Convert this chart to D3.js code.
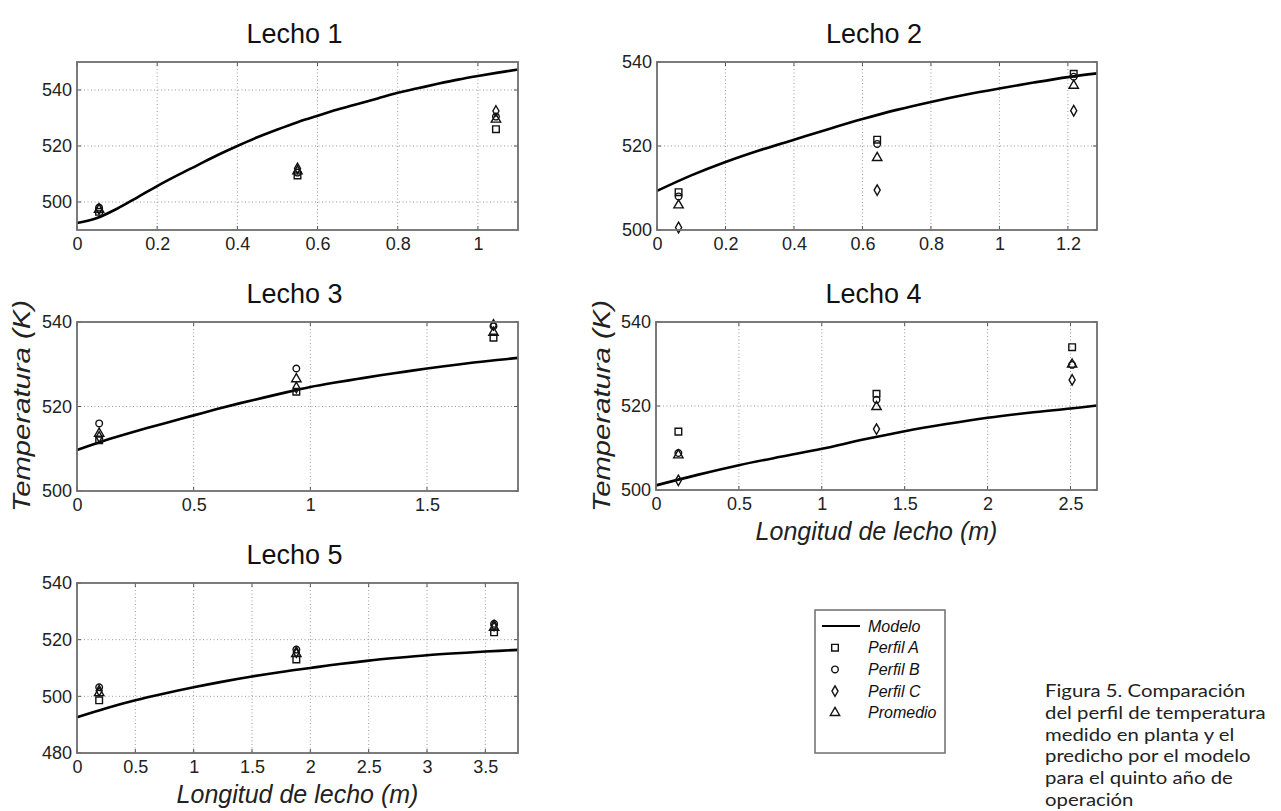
<!DOCTYPE html>
<html><head><meta charset="utf-8">
<script src="https://cdn.jsdelivr.net/npm/d3@7"></script>
<style>body{margin:0;background:#fff;overflow:hidden} svg{display:block}</style>
</head><body>
<svg id="c" width="1281" height="811"></svg>
<script>
// ---------------- DATA ----------------
const titles = ["Lecho 1", "Lecho 2", "Lecho 3", "Lecho 4", "Lecho 5"];
const legendNames = ["Modelo", "Perfil A", "Perfil B", "Perfil C", "Promedio"];
const yAxisLabel = "Temperatura (K)";
const xAxisLabel = "Longitud de lecho (m)";
const captionLines = ["Figura 5. Comparación", "del perfil de temperatura", "medido en planta y el",
  "predicho por el modelo", "para el quinto año de", "operación"];

// Lecho 1
const lecho1XDomain = [0, 1.1];
const lecho1YDomain = [490, 550];
const lecho1XTicks = [0, 0.2, 0.4, 0.6, 0.8, 1];
const lecho1YTicks = [500, 520, 540];
const lecho1Pos = [0.055, 0.55, 1.045];
const lecho1PerfilA = [496.5, 509.5, 526];
const lecho1PerfilB = [498, 510.5, 530.5];
const lecho1PerfilC = [497.5, 512, 532.5];
const lecho1Promedio = [497.3, 511, 529.5];
const lecho1ModeloX = [0, 0.05, 0.1, 0.15, 0.2, 0.25, 0.3, 0.35, 0.4, 0.45, 0.5, 0.55, 0.6, 0.65, 0.7, 0.75, 0.8, 0.85, 0.9, 0.95, 1.0, 1.05, 1.1];
const lecho1ModeloT = [492.5, 494.3, 497.6, 501.6, 505.7, 509.5, 513.1, 516.7, 520, 523.1, 525.9, 528.5, 530.8, 533, 535, 537, 539, 540.6, 542.2, 543.7, 545, 546.2, 547.3];

// Lecho 2
const lecho2XDomain = [0, 1.285];
const lecho2YDomain = [500, 540];
const lecho2XTicks = [0, 0.2, 0.4, 0.6, 0.8, 1, 1.2];
const lecho2YTicks = [500, 520, 540];
const lecho2Pos = [0.063, 0.643, 1.217];
const lecho2PerfilA = [509, 521.5, 537.2];
const lecho2PerfilB = [508, 520.5, 536.5];
const lecho2PerfilC = [500.6, 509.5, 528.4];
const lecho2Promedio = [505.9, 517.2, 534.4];
const lecho2ModeloX = [0, 0.1, 0.2, 0.3, 0.4, 0.5, 0.6, 0.7, 0.8, 0.9, 1.0, 1.1, 1.2, 1.285];
const lecho2ModeloT = [509.3, 513, 516.2, 519, 521.5, 524, 526.4, 528.6, 530.5, 532.2, 533.7, 535.1, 536.4, 537.3];

// Lecho 3
const lecho3XDomain = [0, 1.89];
const lecho3YDomain = [500, 540];
const lecho3XTicks = [0, 0.5, 1, 1.5];
const lecho3YTicks = [500, 520, 540];
const lecho3Pos = [0.095, 0.94, 1.785];
const lecho3PerfilA = [512, 523.5, 536.3];
const lecho3PerfilB = [516, 529, 539];
const lecho3PerfilC = [512.8, 524.5, 539.3];
const lecho3Promedio = [513.6, 526.5, 537.5];
const lecho3ModeloX = [0, 0.1, 0.2, 0.3, 0.4, 0.5, 0.6, 0.7, 0.8, 0.9, 1.0, 1.1, 1.2, 1.3, 1.4, 1.5, 1.6, 1.7, 1.8, 1.89];
const lecho3ModeloT = [509.7, 511.6, 513.3, 514.9, 516.4, 517.9, 519.4, 520.8, 522.1, 523.4, 524.6, 525.6, 526.5, 527.4, 528.2, 529, 529.7, 530.4, 531, 531.5];

// Lecho 4
const lecho4XDomain = [0, 2.66];
const lecho4YDomain = [500, 540];
const lecho4XTicks = [0, 0.5, 1, 1.5, 2, 2.5];
const lecho4YTicks = [500, 520, 540];
const lecho4Pos = [0.135, 1.33, 2.51];
const lecho4PerfilA = [513.9, 522.9, 534];
const lecho4PerfilB = [508.8, 521.5, 529.8];
const lecho4PerfilC = [502.3, 514.5, 526.2];
const lecho4Promedio = [508.3, 519.8, 529.9];
const lecho4ModeloX = [0, 0.25, 0.5, 0.75, 1, 1.25, 1.5, 1.75, 2, 2.25, 2.5, 2.66];
const lecho4ModeloT = [501.1, 503.6, 505.9, 507.9, 509.8, 512, 514, 515.7, 517.2, 518.4, 519.4, 520.1];

// Lecho 5
const lecho5XDomain = [0, 3.78];
const lecho5YDomain = [480, 540];
const lecho5XTicks = [0, 0.5, 1, 1.5, 2, 2.5, 3, 3.5];
const lecho5YTicks = [480, 500, 520, 540];
const lecho5Pos = [0.19, 1.88, 3.575];
const lecho5PerfilA = [498.6, 513, 522.6];
const lecho5PerfilB = [503.2, 516.5, 525.6];
const lecho5PerfilC = [502, 515.6, 525];
const lecho5Promedio = [501.2, 515, 524.3];
const lecho5ModeloX = [0, 0.25, 0.5, 0.75, 1, 1.25, 1.5, 1.75, 2, 2.25, 2.5, 2.75, 3, 3.25, 3.5, 3.78];
const lecho5ModeloT = [492.6, 495.8, 498.6, 501, 503.2, 505.2, 507, 508.6, 510, 511.4, 512.6, 513.6, 514.5, 515.2, 515.8, 516.4];

// ---------------- LAYOUT ----------------
const panels = [
  {title: titles[0], box: [77, 62, 518, 230], xd: lecho1XDomain, yd: lecho1YDomain, xt: lecho1XTicks, yt: lecho1YTicks,
   pos: lecho1Pos, A: lecho1PerfilA, B: lecho1PerfilB, C: lecho1PerfilC, P: lecho1Promedio, mx: lecho1ModeloX, mt: lecho1ModeloT},
  {title: titles[1], box: [657, 62, 1097, 230], xd: lecho2XDomain, yd: lecho2YDomain, xt: lecho2XTicks, yt: lecho2YTicks,
   pos: lecho2Pos, A: lecho2PerfilA, B: lecho2PerfilB, C: lecho2PerfilC, P: lecho2Promedio, mx: lecho2ModeloX, mt: lecho2ModeloT},
  {title: titles[2], box: [77, 322, 518, 491], xd: lecho3XDomain, yd: lecho3YDomain, xt: lecho3XTicks, yt: lecho3YTicks,
   pos: lecho3Pos, A: lecho3PerfilA, B: lecho3PerfilB, C: lecho3PerfilC, P: lecho3Promedio, mx: lecho3ModeloX, mt: lecho3ModeloT,
   ylab: {x: 30, y: 406}},
  {title: titles[3], box: [656, 322, 1097, 490], xd: lecho4XDomain, yd: lecho4YDomain, xt: lecho4XTicks, yt: lecho4YTicks,
   pos: lecho4Pos, A: lecho4PerfilA, B: lecho4PerfilB, C: lecho4PerfilC, P: lecho4Promedio, mx: lecho4ModeloX, mt: lecho4ModeloT,
   ylab: {x: 610, y: 406}, xlab: {y: 540}},
  {title: titles[4], box: [77, 583, 518, 753], xd: lecho5XDomain, yd: lecho5YDomain, xt: lecho5XTicks, yt: lecho5YTicks,
   pos: lecho5Pos, A: lecho5PerfilA, B: lecho5PerfilB, C: lecho5PerfilC, P: lecho5Promedio, mx: lecho5ModeloX, mt: lecho5ModeloT,
   xlab: {y: 803}}
];

const FONT = "'Liberation Sans', Arial, Helvetica, sans-serif";
const svg = d3.select("#c");

const symA = d3.symbol().type(d3.symbolSquare).size(44);
const symB = d3.symbol().type(d3.symbolCircle).size(34);
const symC = d3.symbol().type(d3.symbolDiamond).size(32);
const symP = d3.symbol().type(d3.symbolTriangle).size(38);
const markerStyle = sel => sel.attr("fill", "none").attr("stroke", "#111").attr("stroke-width", 1.4);

panels.forEach(p => {
  const [x0, y0, x1, y1] = p.box;
  const x = d3.scaleLinear().domain(p.xd).range([x0, x1]);
  const y = d3.scaleLinear().domain(p.yd).range([y1, y0]);
  const g = svg.append("g");

  // grid (dotted)
  g.append("g").selectAll("line").data(p.xt.filter(v => v > p.xd[0])).join("line")
    .attr("x1", d => x(d)).attr("x2", d => x(d)).attr("y1", y0).attr("y2", y1)
    .attr("stroke", "#9a9a9a").attr("stroke-width", 1).attr("stroke-dasharray", "1,2.5");
  g.append("g").selectAll("line").data(p.yt.filter(v => v > p.yd[0] && v < p.yd[1])).join("line")
    .attr("y1", d => y(d)).attr("y2", d => y(d)).attr("x1", x0).attr("x2", x1)
    .attr("stroke", "#9a9a9a").attr("stroke-width", 1).attr("stroke-dasharray", "1,2.5");

  // inward ticks on all sides
  const tk = 4;
  g.append("g").selectAll("path").data(p.xt).join("path")
    .attr("d", d => `M${x(d)},${y1}v${-tk}M${x(d)},${y0}v${tk}`)
    .attr("stroke", "#555").attr("stroke-width", 1);
  g.append("g").selectAll("path").data(p.yt).join("path")
    .attr("d", d => `M${x0},${y(d)}h${tk}M${x1},${y(d)}h${-tk}`)
    .attr("stroke", "#555").attr("stroke-width", 1);

  // model line
  const line = d3.line().x(d => x(d[0])).y(d => y(d[1])).curve(d3.curveCatmullRom.alpha(0.5));
  g.append("path").datum(p.mx.map((v, i) => [v, p.mt[i]]))
    .attr("d", line).attr("fill", "none").attr("stroke", "#000").attr("stroke-width", 2.6);

  // markers
  const mk = (vals, sym) => g.append("g").selectAll("path").data(vals).join("path")
    .attr("transform", (d, i) => `translate(${x(p.pos[i])},${y(d)})`)
    .attr("d", sym).call(markerStyle);
  mk(p.A, symA); mk(p.B, symB); mk(p.C, symC); mk(p.P, symP);

  // frame
  g.append("rect").attr("x", x0).attr("y", y0).attr("width", x1 - x0).attr("height", y1 - y0)
    .attr("fill", "none").attr("stroke", "#6e6e6e").attr("stroke-width", 1.8);

  // axes labels
  const ax = g.append("g").attr("transform", `translate(0,${y1})`)
    .call(d3.axisBottom(x).tickValues(p.xt).tickFormat(d => String(d)).tickSize(0).tickPadding(7));
  const ay = g.append("g").attr("transform", `translate(${x0},0)`)
    .call(d3.axisLeft(y).tickValues(p.yt).tickFormat(d => String(d)).tickSize(0).tickPadding(5));
  [ax, ay].forEach(a => {
    a.select(".domain").remove();
    a.selectAll("text").attr("font-family", FONT).attr("font-size", 18).attr("fill", "#222");
  });

  // title
  g.append("text").attr("x", (x0 + x1) / 2 - 3).attr("y", y0 - 19).attr("text-anchor", "middle")
    .attr("font-family", FONT).attr("font-size", 27).attr("fill", "#111").text(p.title);

  if (p.ylab) {
    g.append("text").attr("transform", `translate(${p.ylab.x},${p.ylab.y}) rotate(-90)`)
      .attr("text-anchor", "middle").attr("font-family", FONT).attr("font-style", "italic")
      .attr("font-size", 24).attr("fill", "#222")
      .attr("textLength", 212).attr("lengthAdjust", "spacingAndGlyphs").text(yAxisLabel);
  }
  if (p.xlab) {
    g.append("text").attr("x", (x0 + x1) / 2).attr("y", p.xlab.y).attr("text-anchor", "middle")
      .attr("font-family", FONT).attr("font-style", "italic").attr("font-size", 25).attr("fill", "#222")
      .text(xAxisLabel);
  }
});

// ---------------- LEGEND ----------------
const lg = svg.append("g");
lg.append("rect").attr("x", 815).attr("y", 610).attr("width", 130).attr("height", 143)
  .attr("fill", "#fff").attr("stroke", "#6e6e6e").attr("stroke-width", 1.5);
const legendSyms = [null, symA, symB, symC, symP];
legendNames.forEach((name, i) => {
  const cy = 626 + i * 21.7;
  if (i === 0) {
    lg.append("line").attr("x1", 822).attr("x2", 860).attr("y1", cy).attr("y2", cy)
      .attr("stroke", "#000").attr("stroke-width", 2);
  } else {
    lg.append("path").attr("transform", `translate(835,${cy})`).attr("d", legendSyms[i]).call(markerStyle);
  }
  lg.append("text").attr("x", 868).attr("y", cy + 5.5).attr("font-family", FONT)
    .attr("font-style", "italic").attr("font-size", 16).attr("fill", "#111").text(name);
});

// ---------------- CAPTION ----------------
const cap = svg.append("g").attr("transform", "translate(1045,0) scale(1.13,1)");
captionLines.forEach((t, i) => {
  cap.append("text").attr("x", 0).attr("y", 697 + i * 21.8)
    .attr("font-family", "Lato, 'Open Sans', sans-serif").attr("font-size", 18).attr("fill", "#222").text(t);
});
</script>
</body></html>
